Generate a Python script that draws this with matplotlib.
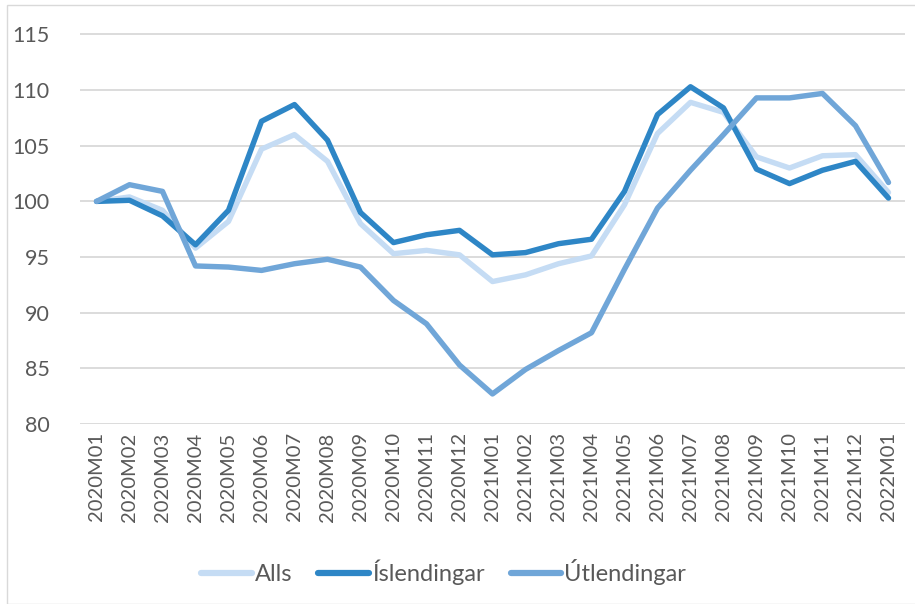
import matplotlib
matplotlib.use("Agg")
import matplotlib.pyplot as plt
from matplotlib.patches import Rectangle

months = ["2020M01", "2020M02", "2020M03", "2020M04", "2020M05", "2020M06", "2020M07",
          "2020M08", "2020M09", "2020M10", "2020M11", "2020M12", "2021M01", "2021M02",
          "2021M03", "2021M04", "2021M05", "2021M06", "2021M07", "2021M08", "2021M09",
          "2021M10", "2021M11", "2021M12", "2022M01"]

alls = [100, 100.4, 99.2, 95.8, 98.2, 104.7, 106.0, 103.6, 98.0, 95.3, 95.6, 95.2,
        92.8, 93.4, 94.4, 95.1, 99.7, 106.1, 108.9, 108.0, 104.0, 103.0, 104.1, 104.2, 100.8]
islendingar = [100, 100.1, 98.7, 96.1, 99.2, 107.2, 108.7, 105.5, 99.0, 96.3, 97.0, 97.4,
               95.2, 95.4, 96.2, 96.6, 100.9, 107.8, 110.3, 108.4, 102.9, 101.6, 102.8, 103.6, 100.3]
utlendingar = [100, 101.5, 100.9, 94.2, 94.1, 93.8, 94.4, 94.8, 94.1, 91.1, 89.0, 85.3,
               82.7, 84.9, 86.6, 88.2, 93.9, 99.4, 102.8, 106.0, 109.3, 109.3, 109.7, 106.8, 101.7]

series_names = ["Alls", "Íslendingar", "Útlendingar"]
colors = ["#c5dcf4", "#2e86c6", "#70a6d8"]
text_color = "#595959"

plt.rcParams['font.family'] = ['Lato', 'DejaVu Sans']

fig = plt.figure(figsize=(9.15, 6.04), dpi=100)
ax = fig.add_axes([80/915, 1-424/604, 825/915, (424-30)/604])

x = list(range(len(months)))
for vals, name, c in zip([alls, islendingar, utlendingar], series_names, colors):
    ax.plot(x, vals, color=c, lw=3.9, label=name, solid_joinstyle='round', solid_capstyle='round')

ax.set_xlim(-0.5, len(months) - 0.5)
ax.set_ylim(80, 115.4)
ax.set_yticks([80, 85, 90, 95, 100, 105, 110, 115])
ax.set_xticks(x)
ax.set_xticklabels(months, rotation=90, fontsize=14.5, color=text_color)
for lab in ax.get_yticklabels():
    lab.set_fontsize(15.5)
    lab.set_color(text_color)
ax.yaxis.grid(True, color="#d9d9d9", lw=1.3)
ax.set_axisbelow(True)
for s in ax.spines.values():
    s.set_visible(False)
ax.tick_params(axis='both', length=0)
ax.tick_params(axis='y', pad=22)
ax.tick_params(axis='x', pad=6)

leg = fig.legend(loc='center', bbox_to_anchor=(0.485, 1-572/604), ncol=3, frameon=False,
                 fontsize=17, handlelength=2.15, columnspacing=1.1, handletextpad=0.12)
for t in leg.get_texts():
    t.set_color(text_color)
for h in leg.get_lines():
    h.set_linewidth(4.5)
    h.set_solid_capstyle('round')

fig.patches.append(Rectangle((7/915, 0), 1.2, 1-5/604, transform=fig.transFigure,
                             fill=False, edgecolor="#d9d9d9", lw=1))

fig.savefig("out.png", dpi=100)
